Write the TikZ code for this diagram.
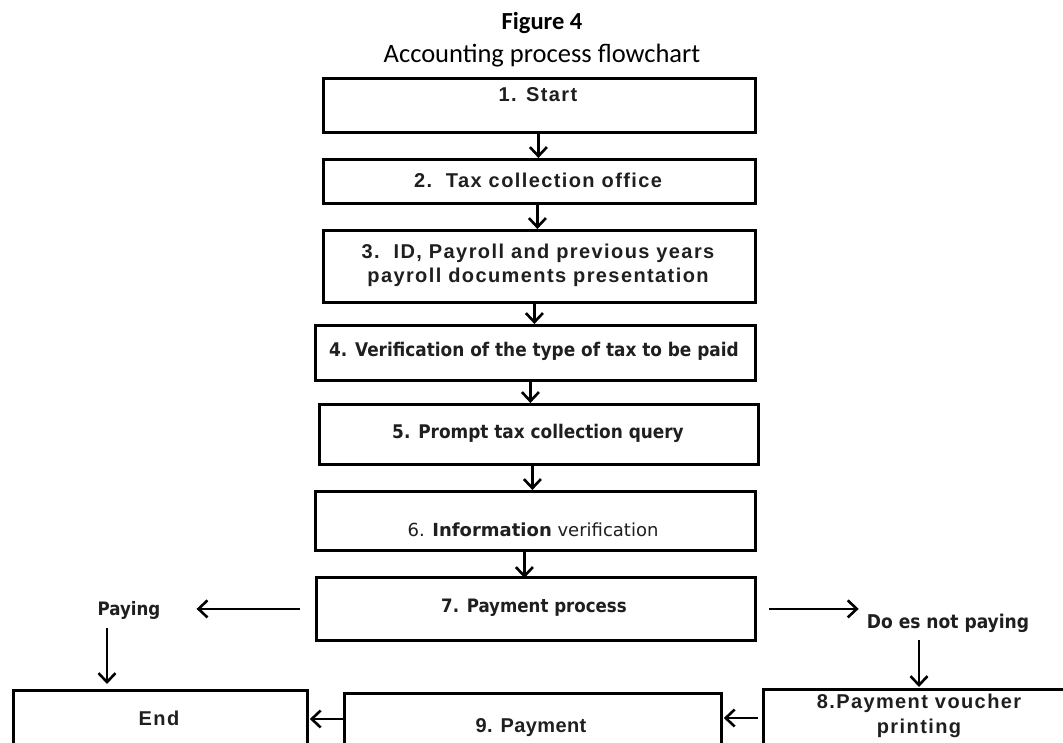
\documentclass[tikz,border=0pt]{standalone}
\usepackage{fontspec}
\setmainfont{Carlito}
\newfontfamily\arialfont{Liberation Sans}[LetterSpace=7]
\newfontfamily\arialplain{Liberation Sans}[LetterSpace=2]
\newfontfamily\tahomafont{DejaVu Sans Condensed}
\newfontfamily\verdanafont{DejaVu Sans}
\usetikzlibrary{arrows.meta}
\begin{document}
\begin{tikzpicture}[x=1pt,y=-1pt,
  box/.style={draw=black,line width=2.8pt,fill=white,inner sep=0pt,anchor=north west},
  arr/.style={draw=black,line width=2.8pt,-{Straight Barb[length=9pt,width=17pt,line width=2.6pt]}},
  atxt/.style={font=\arialfont\bfseries\fontsize{20}{24}\selectfont,inner sep=0pt,align=center,text=black!88},
  ttxt/.style={font=\tahomafont\bfseries\fontsize{18.8}{24}\selectfont,inner sep=0pt,align=center,text=black!88},
  ]
\useasboundingbox (0,0) rectangle (1063,742);
\clip (0,0) rectangle (1063,742);
% title
\node[font=\bfseries\fontsize{24.5}{28}\selectfont] (fig) at (542,23) {Figure 4};
\node[font=\fontsize{26.5}{30}\selectfont] (cap) at (542,56) {Accounting process flowchart};
% boxes
\node[box,minimum width=432pt,minimum height=54pt] (b1) at (322,77) {};
\node[box,minimum width=432pt,minimum height=44pt] (b2) at (322,158) {};
\node[box,minimum width=432pt,minimum height=72pt] (b3) at (322,229) {};
\node[box,minimum width=440pt,minimum height=55pt] (b4) at (314,324) {};
\node[box,minimum width=439pt,minimum height=60pt] (b5) at (318,403) {};
\node[box,minimum width=440pt,minimum height=59pt] (b6) at (314,490) {};
\node[box,minimum width=439pt,minimum height=63pt] (b7) at (315,576) {};
\node[box,minimum width=294pt,minimum height=80pt] (bend) at (12,689) {};
\node[box,minimum width=377pt,minimum height=80pt] (b9) at (343,692) {};
\node[box,minimum width=330pt,minimum height=80pt] (b8) at (762,688) {};
% texts
\node[atxt] (t1) at (538,95) {1. Start};
\node[atxt] (t2) at (538,180) {2.\ \ Tax collection office};
\node[atxt] (t3) at (538,265) {3.\ \ ID, Payroll and previous years\\payroll documents presentation};
\node[ttxt] (t4) at (534,351) {4. Verification of the type of tax to be paid};
\node[ttxt] (t5) at (538,433) {5. Prompt tax collection query};
\node[font=\verdanafont\fontsize{18}{22}\selectfont,inner sep=0pt,text=black!88] (t6) at (533,530) {6. \textbf{Information} verification};
\node[ttxt,font=\tahomafont\bfseries\fontsize{18.5}{24}\selectfont] (t7) at (534,608) {7. Payment process};
\node[ttxt,font=\tahomafont\bfseries\fontsize{18.5}{22}\selectfont] (paying) at (129,610) {Paying};
\node[ttxt,font=\tahomafont\bfseries\fontsize{19}{22}\selectfont] (notpay) at (948,623) {Do es not paying};
\node[atxt,font=\arialfont\bfseries\fontsize{20}{25}\selectfont] (t8) at (919,716) {8.Payment voucher\\printing};
\node[atxt,font=\arialplain\bfseries\fontsize{20}{24}\selectfont] (t9) at (531,728) {9. Payment};
\node[atxt] (tend) at (159,718) {End};
% connectors
\draw[arr] ([xshift=-1pt]b1.south) coordinate (s1) -- (s1 |- b2.north);
\draw[arr] ([xshift=-2pt]b2.south) coordinate (s2) -- (s2 |- b3.north);
\draw[arr] ([xshift=-5pt]b3.south) coordinate (s3) -- (s3 |- b4.north);
\draw[arr] ([xshift=-5pt]b4.south) coordinate (s4) -- (s4 |- b5.north);
\draw[arr] ([xshift=-6.5pt]b5.south) coordinate (s5) -- (s5 |- b6.north);
\draw[arr] ([xshift=-11pt]b6.south) coordinate (s6) -- ([yshift=-2pt]s6 |- b7.north);
\draw[arr,shorten <=15pt,shorten >=36pt] (b7.west) -- (b7.west -| paying.east);
\draw[arr,shorten <=9pt,shorten >=5pt] ([xshift=-22pt]paying.south) coordinate (sp) -- (sp |- bend.north);
\draw[arr,shorten <=12pt,shorten >=8pt] (b7.east) -- (b7.east -| notpay.west);
\draw[arr,shorten <=8pt,shorten >=1pt] ([xshift=-29pt]notpay.south) coordinate (sn) -- (sn |- b8.north);
\draw[arr,shorten <=4pt,shorten >=1pt] (b8.west |- 0,718) -- (b9.east |- 0,718);
\draw[arr,shorten <=0pt,shorten >=1pt] (b9.west |- 0,719) -- (bend.east |- 0,719);
\end{tikzpicture}
\end{document}
